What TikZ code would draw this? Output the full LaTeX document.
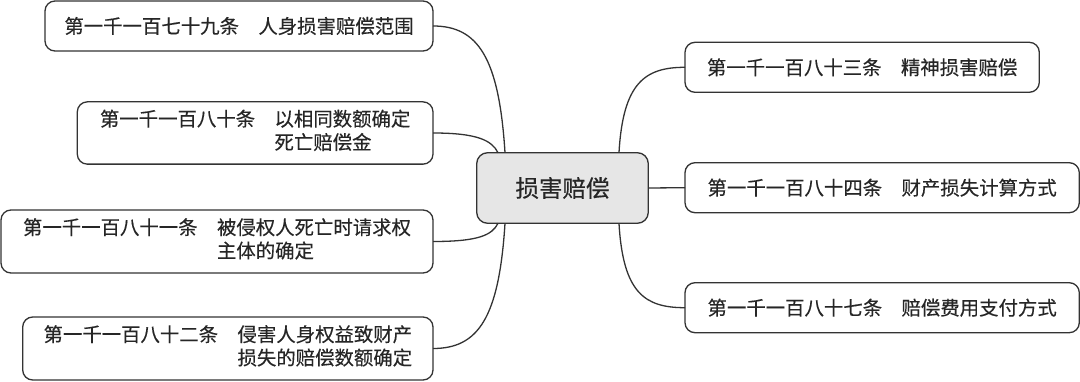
\documentclass[tikz,border=0pt]{standalone}
\usepackage{fontspec}
\setmainfont{Noto Sans CJK SC}[FakeBold=0.3]
\definecolor{ln}{HTML}{333333}
\definecolor{tx}{HTML}{262626}
\definecolor{cfill}{HTML}{E6E6E6}
\newcommand{\twol}[3]{\begin{tabular}{@{}l@{\hspace{1em}}l@{}}#1 & #2\\ & #3\end{tabular}}
\begin{document}
\begin{tikzpicture}[x=1pt,y=-1pt,
  leaf/.style={draw=ln, line width=1.3pt, rounded corners=10pt, fill=white,
    text=tx, inner xsep=8pt, inner ysep=0pt, outer sep=0pt,
    font=\fontsize{19.4}{23}\selectfont},
  root/.style={draw=ln, line width=1.3pt, rounded corners=11pt, fill=cfill,
    text=tx, inner sep=0pt, outer sep=0pt, minimum width=171.6pt, minimum height=70.6pt,
    font=\fontsize{23.5}{28}\selectfont},
  con/.style={draw=ln, line width=1.3pt}]
\useasboundingbox (0,0) rectangle (1080,382);
\fill[white] (0,0) rectangle (1080,382);

\node[root] (c) at (562.5,188) {损害赔偿};

\node[leaf, anchor=east, minimum width=388pt, minimum height=50pt] (l1) at (433,26) {第一千一百七十九条\hspace{1em}人身损害赔偿范围};
\node[leaf, anchor=east, minimum width=355.7pt, minimum height=62.3pt] (l2) at (433,133) {\twol{第一千一百八十条}{以相同数额确定}{死亡赔偿金}};
\node[leaf, anchor=east, minimum width=432pt, minimum height=63pt] (l3) at (433,241.5) {\twol{第一千一百八十一条}{被侵权人死亡时请求权}{主体的确定}};
\node[leaf, anchor=east, minimum width=410.3pt, minimum height=63pt] (l4) at (433,348.5) {\twol{第一千一百八十二条}{侵害人身权益致财产}{损失的赔偿数额确定}};

\node[leaf, anchor=west, minimum width=354.3pt, minimum height=50pt] (r1) at (685,67.3) {第一千一百八十三条\hspace{1em}精神损害赔偿};
\node[leaf, anchor=west, minimum width=394.3pt, minimum height=50pt] (r2) at (685,187.7) {第一千一百八十四条\hspace{1em}财产损失计算方式};
\node[leaf, anchor=west, minimum width=394.3pt, minimum height=50pt] (r3) at (685,307.7) {第一千一百八十七条\hspace{1em}赔偿费用支付方式};

% connectors
\draw[con] ([xshift=28.3pt]c.north west) .. controls +(-6,-95) and +(45,0) .. (l1.east);
\draw[con] ([xshift=21.3pt]c.north west) .. controls +(-6,-12) and +(45,0) .. (l2.east);
\draw[con] ([xshift=21.3pt]c.south west) .. controls +(-6,12) and +(45,0) .. (l3.east);
\draw[con] ([xshift=28.3pt]c.south west) .. controls +(-6,95) and +(45,0) .. (l4.east);
\draw[con] ([xshift=-29.3pt]c.north east) .. controls +(4,-70) and +(-40,0) .. (r1.west);
\draw[con] (c.east) -- (r2.west);
\draw[con] ([xshift=-29.3pt]c.south east) .. controls +(4,70) and +(-40,0) .. (r3.west);
\end{tikzpicture}
\end{document}
